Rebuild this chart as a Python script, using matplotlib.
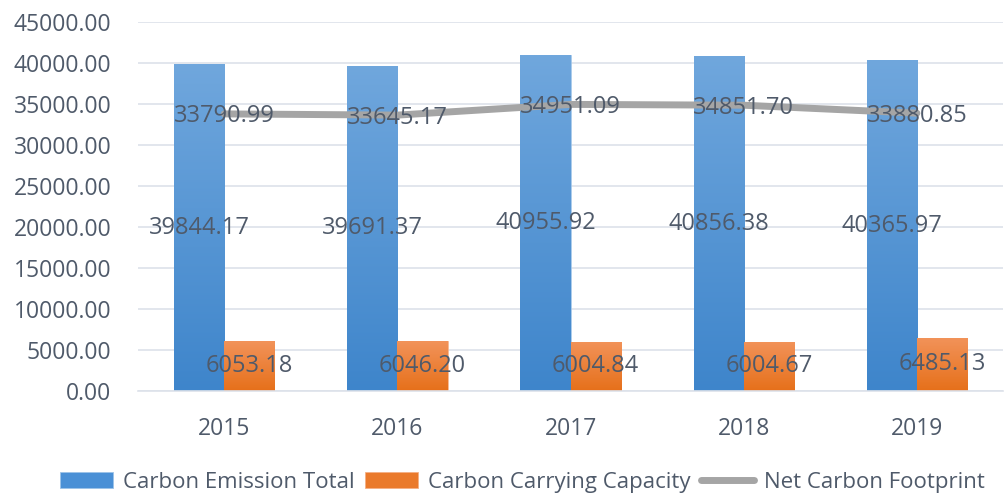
import numpy as np
import matplotlib
matplotlib.use("Agg")
import matplotlib.pyplot as plt
from matplotlib.colors import LinearSegmentedColormap

years = ["2015", "2016", "2017", "2018", "2019"]
emission_total = [39844.17, 39691.37, 40955.92, 40856.38, 40365.97]
carrying_capacity = [6053.18, 6046.20, 6004.84, 6004.67, 6485.13]
net_footprint = [33790.99, 33645.17, 34951.09, 34851.70, 33880.85]

_TEXT = "#4f5a6a"
_GRID = "#dde2ea"
_LINE = "#a5a5a5"
_FS = 17

plt.rcParams["font.family"] = ["Open Sans", "DejaVu Sans"]


def _gradient_fill(ax, bars, top, bottom):
    cmap = LinearSegmentedColormap.from_list("g", [bottom, top])
    grad = np.linspace(0, 1, 256).reshape(-1, 1)
    for bar in bars:
        x0, y0 = bar.get_x(), bar.get_y()
        w, h = bar.get_width(), bar.get_height()
        im = ax.imshow(grad, cmap=cmap, aspect="auto", origin="lower",
                       extent=(x0, x0 + w, y0, y0 + h), zorder=bar.get_zorder())
        im.set_clip_path(bar)
        bar.set_facecolor("none")


fig = plt.figure(figsize=(10.05, 4.95), dpi=100)
ax = fig.add_axes([0.137, 0.210, 0.8615, 0.7456])

x = np.arange(len(years))
w = 0.29
b1 = ax.bar(x - w / 2, emission_total, w, color="#5b9bd5", edgecolor="#9cc3e8",
            linewidth=0.6, zorder=2, label="Carbon Emission Total")
b2 = ax.bar(x + w / 2, carrying_capacity, w, color="#ed7d31", edgecolor="#f5b085",
            linewidth=0.6, zorder=2, label="Carbon Carrying Capacity")
_gradient_fill(ax, b1, "#70a7dd", "#3e85cb")
_gradient_fill(ax, b2, "#f2935a", "#e6701a")
ln, = ax.plot(x, net_footprint, color=_LINE, linewidth=5, zorder=3,
              solid_capstyle="round", label="Net Carbon Footprint")

for xi, v in zip(x, emission_total):
    ax.text(xi - w / 2, v / 2, f"{v:.2f}", ha="center", va="center",
            fontsize=_FS, color=_TEXT, zorder=4)
for xi, v in zip(x, carrying_capacity):
    ax.text(xi + w / 2, v / 2, f"{v:.2f}", ha="center", va="center",
            fontsize=_FS, color=_TEXT, zorder=4)
for xi, v in zip(x, net_footprint):
    ax.text(xi, v - 300, f"{v:.2f}", ha="center", va="center",
            fontsize=_FS, color=_TEXT, zorder=4)

ax.set_xlim(-0.5, len(years) - 0.5)
ax.set_ylim(0, 45000)
ax.set_yticks(np.arange(0, 45001, 5000))
ax.set_yticklabels([f"{t:.2f}" for t in np.arange(0, 45001, 5000)])
ax.set_xticks(x)
ax.set_xticklabels(years)
ax.tick_params(axis="both", length=0, labelsize=16.5, colors=_TEXT)
ax.tick_params(axis="y", pad=19)
ax.tick_params(axis="x", pad=19)
ax.grid(axis="y", color=_GRID, linewidth=1.2, zorder=0)
ax.set_axisbelow(True)
for s in ["top", "right", "left"]:
    ax.spines[s].set_visible(False)
ax.spines["bottom"].set_color(_GRID)
ax.spines["bottom"].set_linewidth(1.2)

leg = fig.legend(handles=[b1, b2, ln], loc="center", bbox_to_anchor=(0.52, 0.026),
                 ncol=3, frameon=False, fontsize=16, handlelength=2.4,
                 handleheight=0.72, handletextpad=0.45, columnspacing=0.45,
                 labelcolor=_TEXT)
for h, c in zip(leg.legend_handles[:2], ["#4a90d6", "#ea7a2c"]):
    h.set_facecolor(c)

fig.savefig("out.png", dpi=100)
